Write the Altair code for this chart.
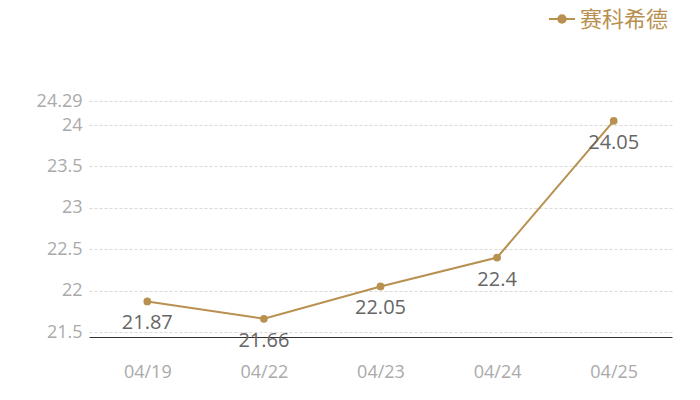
import altair as alt
import pandas as pd

dates = ["04/19", "04/22", "04/23", "04/24", "04/25"]
values = [21.87, 21.66, 22.05, 22.4, 24.05]
series_name = "赛科希德"
y_ticks = [21.5, 22, 22.5, 23, 23.5, 24, 24.29]
y_domain = [21.44, 24.29]

GOLD = "#b8904f"
FONT = "Open Sans"
CJK = "Noto Sans CJK SC"

df = pd.DataFrame({"date": dates, "value": values})

x = alt.X("date:N", sort=dates, title=None,
          scale=alt.Scale(type="point", padding=0.5),
          axis=alt.Axis(labelAngle=0, labelColor="#aaaaaa", labelFontSize=18,
                        labelFont=FONT, domainColor="#333333", domainWidth=1,
                        ticks=False, labelPadding=26, grid=False))
y = alt.Y("value:Q", title=None,
          scale=alt.Scale(domain=y_domain, nice=False, zero=False),
          axis=alt.Axis(values=y_ticks, labelExpr="datum.value + ''",
                        labelColor="#aaaaaa", labelFontSize=18,
                        labelFont=FONT, domain=False, ticks=False, labelPadding=7,
                        gridColor="#d9d9d9", gridDash=[3, 2], gridWidth=1,
                        labelOverlap=False, labelFlush=False))

base = alt.Chart(df).encode(x=x, y=y)

line = base.mark_line(color=GOLD, strokeWidth=2)
points = base.mark_point(filled=True, color=GOLD, size=60, opacity=1)
labels = base.mark_text(dy=22, fontSize=20, color="#666666", font=FONT).encode(
    text=alt.Text("value:Q"))

legend_df = pd.DataFrame({"name": [series_name]})
leg_line = alt.Chart(legend_df).mark_rule(color=GOLD, strokeWidth=2).encode(
    x=alt.value(460), x2=alt.value(486), y=alt.value(-82))
leg_pt = alt.Chart(legend_df).mark_point(filled=True, color=GOLD, size=90, opacity=1).encode(
    x=alt.value(473), y=alt.value(-82))
leg_txt = alt.Chart(legend_df).mark_text(align="left", baseline="middle", fontSize=22,
                                         color=GOLD, font=CJK).encode(
    x=alt.value(491), y=alt.value(-81), text="name:N")

chart = alt.layer(line, points, labels, leg_line, leg_pt, leg_txt).properties(
    width=583, height=236,
    autosize=alt.AutoSizeParams(type="none"),
    padding={"left": 81, "top": 93, "right": 20, "bottom": 55},
).configure_view(stroke=None)

chart.save("out.html", embed_options={"renderer": "svg", "actions": False})
